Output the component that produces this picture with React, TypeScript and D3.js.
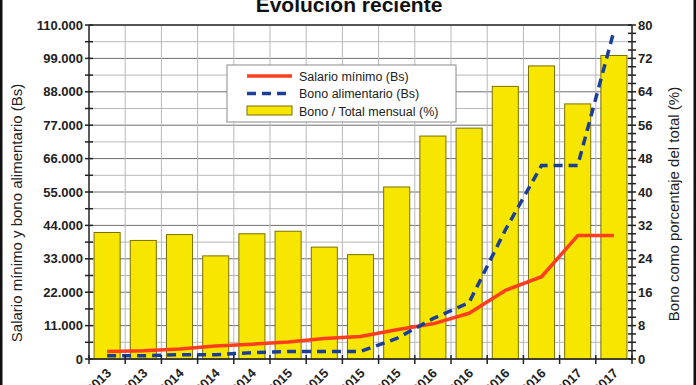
import React from "react";
import * as d3 from "d3";

// fechas de los ajustes (solo se ve el final de cada etiqueta)
const fechas = [
  "01/05/2013", "01/09/2013", "01/01/2014", "01/05/2014", "01/12/2014",
  "01/02/2015", "01/05/2015", "01/07/2015", "01/11/2015", "01/03/2016",
  "01/05/2016", "01/09/2016", "01/11/2016", "01/01/2017", "01/02/2017",
];
// Bs
const salario = [2457, 2703, 3270, 4251, 4889, 5622, 6747, 7422, 9648, 11578, 15051, 22577, 27092, 40638, 40638];
const bono = [1070, 1070, 1391, 1391, 2096, 2475, 2475, 2475, 6750, 13275, 18585, 42480, 63720, 63720, 108000];
// %
const bonoPct = [30.3, 28.4, 29.8, 24.7, 30.0, 30.6, 26.8, 25.0, 41.2, 53.4, 55.3, 65.3, 70.2, 61.1, 72.7];

const leftTicks = d3.range(0, 110001, 5500);
const rightTicks = d3.range(0, 81, 2);

const W = 696, H = 385;
const m = { left: 89, right: 632, top: 25, bottom: 359 };
const FONT = "'Liberation Sans', Arial, sans-serif";

export default function App() {
  const idx = fechas.map((_, i) => i);
  const x = d3.scaleBand<number>().domain(idx).range([m.left, m.right]);
  const yL = d3.scaleLinear().domain([0, 110000]).range([m.bottom, m.top]);
  const yR = d3.scaleLinear().domain([0, 80]).range([m.bottom, m.top]);
  const bw = x.bandwidth();
  const cx = (i: number) => (x(i) as number) + bw / 2;
  const barW = bw * 0.72;

  const line = d3.line<number>().x((_, i) => cx(i)).y(d => yL(d));

  const fmt = (v: number) => (v === 0 ? "0" : d3.format(",")(v).replace(/,/g, "."));

  return (
    <svg width={W} height={H} style={{ position: "absolute", left: 0, top: 0, background: "#fff" }} fontFamily={FONT}>
      <rect x={0} y={0} width={W} height={H} fill="#fff" />

      {/* título */}
      <text x={349} y={12} textAnchor="middle" fontSize={21} fontWeight="bold" fill="#111">Evolución reciente</text>

      {/* rejilla horizontal */}
      {leftTicks.map(t => (
        <line key={"g" + t} x1={m.left} x2={m.right} y1={yL(t)} y2={yL(t)}
          stroke={t % 11000 === 0 ? "#6f6f6f" : "#b8b8b8"} strokeWidth={1} />
      ))}
      {/* rejilla vertical */}
      {d3.range(1, fechas.length).map(i => (
        <line key={"v" + i} x1={x(i) as number} x2={x(i) as number} y1={m.top} y2={m.bottom} stroke="#b8b8b8" strokeWidth={1} />
      ))}

      {/* barras */}
      {bonoPct.map((p, i) => (
        <rect key={"b" + i} x={cx(i) - barW / 2} y={yR(p)} width={barW} height={m.bottom - yR(p)}
          fill="#f6e600" stroke="#7a7000" strokeWidth={1} />
      ))}

      {/* líneas */}
      <path d={line(salario) as string} fill="none" stroke="#ff3d1f" strokeWidth={3.5} strokeLinejoin="round" />
      <path d={line(bono) as string} fill="none" stroke="#1b3f98" strokeWidth={3.5} strokeDasharray="9,6" />

      {/* leyenda */}
      <g transform="translate(227,65)">
        <rect x={0} y={0} width={229} height={57} fill="#fff" stroke="#8a8a8a" strokeWidth={1} />
        <line x1={20} x2={65} y1={11} y2={11} stroke="#ff3d1f" strokeWidth={3.5} />
        <text x={72} y={15.5} fontSize={12.5} fill="#222">Salario mínimo (Bs)</text>
        <line x1={20} x2={65} y1={28.5} y2={28.5} stroke="#1b3f98" strokeWidth={3.5} strokeDasharray="9,6" />
        <text x={72} y={33} fontSize={12.5} fill="#222">Bono alimentario (Bs)</text>
        <rect x={20} y={41} width={45} height={9} fill="#f6e600" stroke="#7a7000" strokeWidth={1} />
        <text x={72} y={50.5} fontSize={12.5} fill="#222">Bono / Total mensual (%)</text>
      </g>

      {/* marco del área */}
      <line x1={m.left} x2={m.right} y1={m.top} y2={m.top} stroke="#333" strokeWidth={1.5} />
      <line x1={m.left} x2={m.right} y1={m.bottom} y2={m.bottom} stroke="#222" strokeWidth={1.5} />
      <line x1={m.left} x2={m.left} y1={m.top} y2={m.bottom} stroke="#222" strokeWidth={1.5} />
      <line x1={m.right} x2={m.right} y1={m.top} y2={m.bottom} stroke="#222" strokeWidth={1.5} />

      {/* eje izquierdo */}
      {leftTicks.map(t => (
        <g key={"l" + t}>
          <line x1={m.left - 4} x2={m.left + 4} y1={yL(t)} y2={yL(t)} stroke="#222" strokeWidth={1.5} />
          {t % 11000 === 0 && (
            <text x={m.left - 6} y={yL(t) + 4.5} textAnchor="end" fontSize={13} fontWeight="bold" fill="#222">{fmt(t)}</text>
          )}
        </g>
      ))}
      {/* eje derecho */}
      {rightTicks.map(t => (
        <g key={"r" + t}>
          <line x1={m.right - 4} x2={m.right + 4} y1={yR(t)} y2={yR(t)} stroke="#222" strokeWidth={1.5} />
          {t % 8 === 0 && (
            <text x={m.right + 6} y={yR(t) + 4.5} fontSize={13} fontWeight="bold" fill="#222">{t}</text>
          )}
        </g>
      ))}
      {/* eje x */}
      {d3.range(0, fechas.length + 1).map(i => {
        const px = i < fechas.length ? (x(i) as number) : m.right;
        return <line key={"xt" + i} x1={px} x2={px} y1={m.bottom - 4} y2={m.bottom + 5} stroke="#222" strokeWidth={1.5} />;
      })}
      {fechas.map((f, i) => (
        <text key={"xl" + i} transform={`translate(${cx(i) + 5},${m.bottom + 15}) rotate(-45)`}
          textAnchor="end" fontSize={13} fontWeight="bold" fill="#222">{f}</text>
      ))}

      {/* títulos de ejes */}
      <text transform="translate(22,213) rotate(-90)" textAnchor="middle" fontSize={15} fill="#222">
        Salario mínimo y bono alimentario (Bs)
      </text>
      <text transform="translate(679,204) rotate(-90)" textAnchor="middle" fontSize={15} fill="#222">
        Bono como porcentaje del total (%)
      </text>

      {/* borde exterior */}
      <rect x={1} y={-2} width={W - 2} height={H + 4} fill="none" stroke="#111" strokeWidth={3} />
    </svg>
  );
}
